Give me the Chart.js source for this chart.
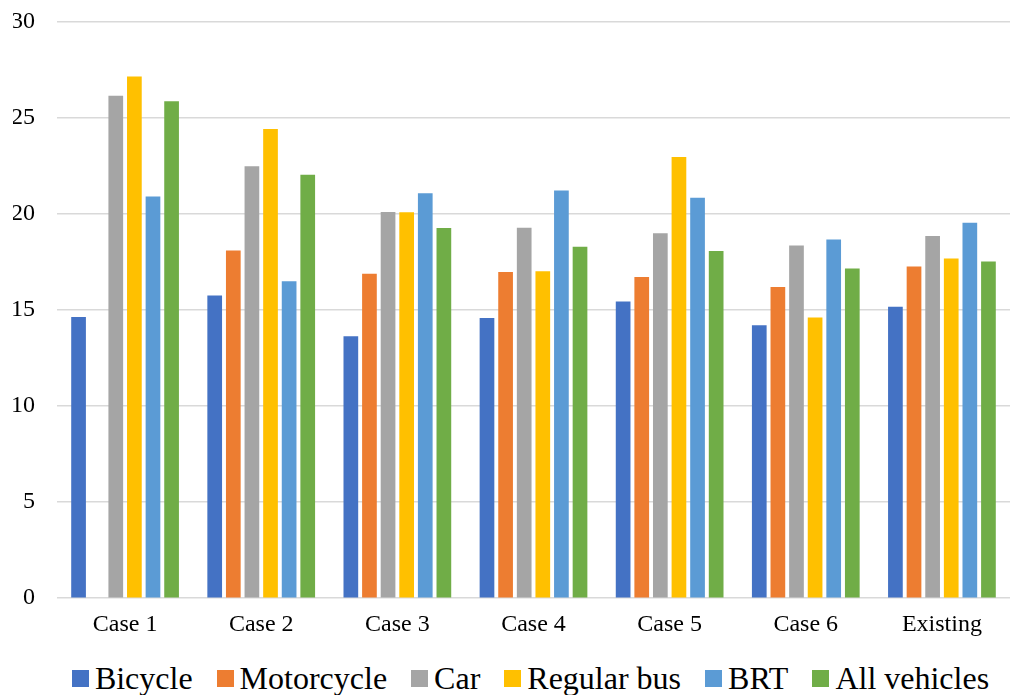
<!DOCTYPE html>
<html lang="en">
<head>
    <meta charset="UTF-8">
    <title>Cases chart</title>
    <script src="https://cdn.jsdelivr.net/npm/chart.js"></script>
    <style>
        html, body { margin: 0; padding: 0; background: #ffffff; overflow: hidden; }
        #wrap { position: relative; width: 1019px; height: 695px; overflow: hidden; }
        #box { position: absolute; left: 0; top: -15px; width: 1019px; height: 666px; }
        #legend {
            position: absolute; left: 21px; top: 661px; width: 1019px; height: 34px;
            display: flex; justify-content: center; align-items: center;
            font-family: 'Liberation Serif', 'Times New Roman', serif; font-size: 32px; line-height: 32px; color: #000;
        }
        #legend .item { display: flex; align-items: center; margin: 0 12px; white-space: nowrap; }
        #legend .sw { width: 17px; height: 17px; margin-right: 6px; }
    </style>
</head>
<body>
    <div id="wrap">
        <div id="box"><canvas id="chart"></canvas></div>
        <div id="legend"></div>
    </div>
    <script>
        // datos
        const cases = ['Case 1', 'Case 2', 'Case 3', 'Case 4', 'Case 5', 'Case 6', 'Existing'];
        const bicycle = [14.62, 15.75, 13.63, 14.58, 15.43, 14.2, 15.16];
        const motorcycle = [0, 18.09, 16.88, 16.96, 16.7, 16.18, 17.25];
        const car = [26.13, 22.47, 20.09, 19.27, 18.98, 18.35, 18.84];
        const regularBus = [27.14, 24.41, 20.08, 17.01, 22.95, 14.6, 17.67];
        const brt = [20.89, 16.48, 21.06, 21.2, 20.83, 18.65, 19.53];
        const allVehicles = [25.85, 22.03, 19.25, 18.28, 18.06, 17.15, 17.51];
        const yTicks = [0, 5, 10, 15, 20, 25, 30];

        const serif = "'Liberation Serif', 'Times New Roman', serif";

        const chart = new Chart(document.getElementById('chart').getContext('2d'), {
            type: 'bar',
            data: {
                labels: cases,
                datasets: [
                    { label: 'Bicycle', data: bicycle, backgroundColor: '#4472C4' },
                    { label: 'Motorcycle', data: motorcycle, backgroundColor: '#ED7D31' },
                    { label: 'Car', data: car, backgroundColor: '#A5A5A5' },
                    { label: 'Regular bus', data: regularBus, backgroundColor: '#FFC000' },
                    { label: 'BRT', data: brt, backgroundColor: '#5B9BD5' },
                    { label: 'All vehicles', data: allVehicles, backgroundColor: '#70AD47' }
                ]
            },
            options: {
                responsive: true,
                maintainAspectRatio: false,
                animation: false,
                layout: { padding: { left: 13, right: 9, top: 0, bottom: 0 } },
                datasets: { bar: { categoryPercentage: 0.82, barPercentage: 0.79 } },
                scales: {
                    x: {
                        grid: { display: false, drawTicks: false },
                        border: { display: false },
                        ticks: { color: '#000', padding: 12, font: { family: serif, size: 24 } }
                    },
                    y: {
                        min: 0,
                        max: 30,
                        afterBuildTicks: axis => { axis.ticks = yTicks.map(v => ({ value: v })); },
                        afterFit: axis => { axis.width = 44; },
                        grid: { color: '#D9D9D9', lineWidth: 1.5, drawTicks: false },
                        border: { display: false },
                        ticks: { color: '#000', padding: 22, font: { family: serif, size: 24 } }
                    }
                },
                plugins: {
                    tooltip: { enabled: false },
                    legend: { display: false }
                }
            }
        });

        // leyenda en HTML
        const legend = document.getElementById('legend');
        chart.data.datasets.forEach(ds => {
            const item = document.createElement('span');
            item.className = 'item';
            item.innerHTML = `<span class="sw" style="background:${ds.backgroundColor}"></span>${ds.label}`;
            legend.appendChild(item);
        });
    </script>
</body>
</html>
